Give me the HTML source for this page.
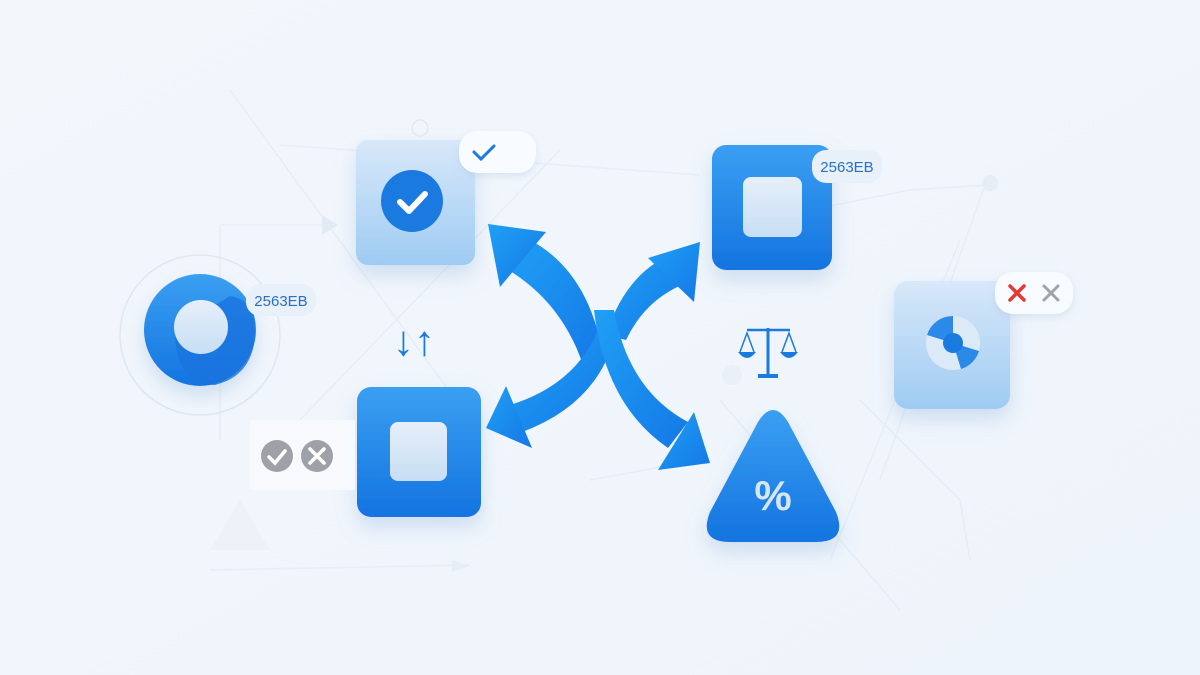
<!DOCTYPE html>
<html><head><meta charset="utf-8"><style>
html,body{margin:0;padding:0;background:#f1f6fc;}
svg{display:block}
text{font-family:"Liberation Sans",sans-serif}
</style></head><body>
<svg width="1200" height="675" viewBox="0 0 1200 675" xmlns="http://www.w3.org/2000/svg">
<defs>
<linearGradient id="bg" x1="0" y1="0" x2="1" y2="1"><stop offset="0" stop-color="#f3f7fc"/><stop offset="1" stop-color="#eef4fb"/></linearGradient>
<linearGradient id="light" x1="0" y1="0" x2="0" y2="1"><stop offset="0" stop-color="#d8e8f9"/><stop offset="1" stop-color="#9ecbf3"/></linearGradient>
<linearGradient id="blue" x1="0" y1="0" x2="0" y2="1"><stop offset="0" stop-color="#3a9ff2"/><stop offset="1" stop-color="#1474e0"/></linearGradient>
<linearGradient id="inner" x1="0" y1="0" x2="0" y2="1"><stop offset="0" stop-color="#e6eff9"/><stop offset="1" stop-color="#c7def5"/></linearGradient>
<linearGradient id="arr" x1="0" y1="0" x2="1" y2="1"><stop offset="0" stop-color="#1fa0f5"/><stop offset="1" stop-color="#1478e6"/></linearGradient>
<filter id="sh" x="-30%" y="-30%" width="160%" height="170%"><feDropShadow dx="0" dy="10" stdDeviation="10" flood-color="#7aa6d6" flood-opacity="0.3"/></filter>
<filter id="sh2" x="-30%" y="-30%" width="160%" height="170%"><feDropShadow dx="0" dy="3" stdDeviation="4" flood-color="#9ab8da" flood-opacity="0.3"/></filter>
</defs>
<rect width="1200" height="675" fill="url(#bg)"/>
<g stroke="#e6edf5" stroke-width="1.5" fill="none">
<path d="M280 145 L700 175"/><path d="M220 225 H330"/><path d="M220 225 V440"/>
<path d="M230 90 L470 420"/><path d="M300 420 L560 150"/><path d="M760 220 L910 190 L990 185"/>
<path d="M960 240 L830 560"/><path d="M985 185 L880 480"/><path d="M860 400 L960 500 L970 560"/>
<path d="M210 570 L470 565"/><path d="M590 480 L700 460"/><path d="M720 400 L900 610"/>
</g>
<polygon points="322,215 338,225 322,235" fill="#e2eaf3"/>
<polygon points="452,560 470,566 452,572" fill="#e6edf5"/>
<circle cx="420" cy="128" r="8" fill="none" stroke="#e2e9f1" stroke-width="1.5"/>
<circle cx="990" cy="183" r="8" fill="#e6edf5"/>
<circle cx="732" cy="375" r="10" fill="#eaf0f7"/>
<polygon points="210,550 240,500 270,550" fill="#edf2f8"/>

<circle cx="200" cy="335" r="80" fill="none" stroke="#dfe7f0" stroke-width="1.5"/>
<g filter="url(#sh)"><circle cx="200" cy="330" r="56" fill="url(#blue)"/></g>
<path d="M175 330 Q175 385 215 385 Q255 375 255 330 Q255 300 230 296 Z" fill="#1a73de" opacity="0.8"/>
<circle cx="201" cy="327" r="27" fill="url(#inner)"/>
<rect x="246" y="284" width="70" height="32" rx="14" fill="#e8f0fa"/>
<text x="281" y="306" font-size="15" fill="#2a6fc0" text-anchor="middle">2563EB</text>

<g filter="url(#sh)"><rect x="356" y="140" width="119" height="125" rx="12" fill="url(#light)"/></g>
<circle cx="412" cy="201" r="31" fill="#1a7ae0"/>
<path d="M400 202 L409 211 L425 194" stroke="#fff" stroke-width="6" fill="none" stroke-linecap="round" stroke-linejoin="round"/>
<g filter="url(#sh2)"><rect x="459" y="131" width="77" height="42" rx="18" fill="#f8fbff"/></g>
<path d="M474 152 L481 159 L494 146" stroke="#1a7ae0" stroke-width="3" fill="none" stroke-linecap="round"/>

<text x="414" y="355" font-size="42" font-weight="bold" fill="#1a7ae0" text-anchor="middle">↓↑</text>

<g filter="url(#sh)"><rect x="357" y="387" width="124" height="130" rx="14" fill="url(#blue)"/></g>
<rect x="390" y="422" width="57" height="59" rx="8" fill="url(#inner)"/>
<rect x="250" y="420" width="105" height="70" fill="#f7fafd" opacity="0.9"/>
<circle cx="277" cy="456" r="16" fill="#9ea2a8"/>
<path d="M269 457 L275 463 L285 451" stroke="#fff" stroke-width="3.5" fill="none" stroke-linecap="round"/>
<circle cx="317" cy="456" r="16" fill="#9ea2a8"/>
<path d="M310 449 L324 463 M324 449 L310 463" stroke="#fff" stroke-width="3.5" stroke-linecap="round"/>

<g filter="url(#sh)"><rect x="712" y="145" width="120" height="125" rx="14" fill="url(#blue)"/></g>
<rect x="743" y="177" width="59" height="60" rx="8" fill="url(#inner)"/>
<rect x="812" y="150" width="70" height="33" rx="14" fill="#e8f0fa"/>
<text x="847" y="172" font-size="15" fill="#2a6fc0" text-anchor="middle">2563EB</text>

<g fill="#1a7ae0" stroke="#1a7ae0">
<line x1="768" y1="328" x2="768" y2="375" stroke-width="3"/>
<line x1="747" y1="330" x2="790" y2="330" stroke-width="2.5"/>
<rect x="758" y="374" width="20" height="4" stroke="none"/>
<path d="M740 352 L747 333 L754 352" fill="none" stroke-width="1.5"/>
<path d="M782 352 L789 333 L796 352" fill="none" stroke-width="1.5"/>
<path d="M738 352 H756 Q747 364 738 352Z" stroke="none"/>
<path d="M780 352 H798 Q789 364 780 352Z" stroke="none"/>
</g>

<g filter="url(#sh)"><path d="M758 422 Q773 398 788 422 L836 512 Q848 542 816 542 L730 542 Q698 542 710 512 Z" fill="url(#blue)"/></g>
<text x="773" y="510" font-size="42" font-weight="bold" fill="#d6e6f7" text-anchor="middle">%</text>

<g filter="url(#sh)"><rect x="894" y="281" width="116" height="128" rx="14" fill="url(#light)"/></g>
<circle cx="953" cy="343" r="27" fill="#dceaf8"/>
<path d="M953 343 L927 335 A27 27 0 0 1 953 316 Z" fill="#2b8ae8"/>
<path d="M953 343 L979 351 A27 27 0 0 1 961 369 Z" fill="#2b8ae8"/>
<circle cx="953" cy="343" r="10" fill="#1a7ae0"/>
<g filter="url(#sh2)"><rect x="995" y="272" width="78" height="42" rx="18" fill="#f8fbff"/></g>
<path d="M1010 286 L1024 300 M1024 286 L1010 300" stroke="#e53935" stroke-width="3.5" stroke-linecap="round"/>
<path d="M1044 286 L1058 300 M1058 286 L1044 300" stroke="#a0a4a8" stroke-width="3" stroke-linecap="round"/>

<g fill="url(#arr)">
<path d="M604 360 Q590 272 530 240 L505 268 Q560 300 582 362 Z"/>
<polygon points="488,224 546,232 500,287"/>
<path d="M606 335 Q625 275 670 255 L684 284 Q645 300 626 340 Z"/>
<polygon points="700,242 694,302 648,258"/>
<path d="M598 330 Q575 385 510 405 L522 432 Q595 405 614 340 Z"/>
<polygon points="486,428 506,386 532,448"/>
<path d="M594 310 Q605 405 668 448 L688 422 Q628 390 614 310 Z"/>
<polygon points="710,463 694,412 658,470"/>
</g>
</svg>
</body></html>
